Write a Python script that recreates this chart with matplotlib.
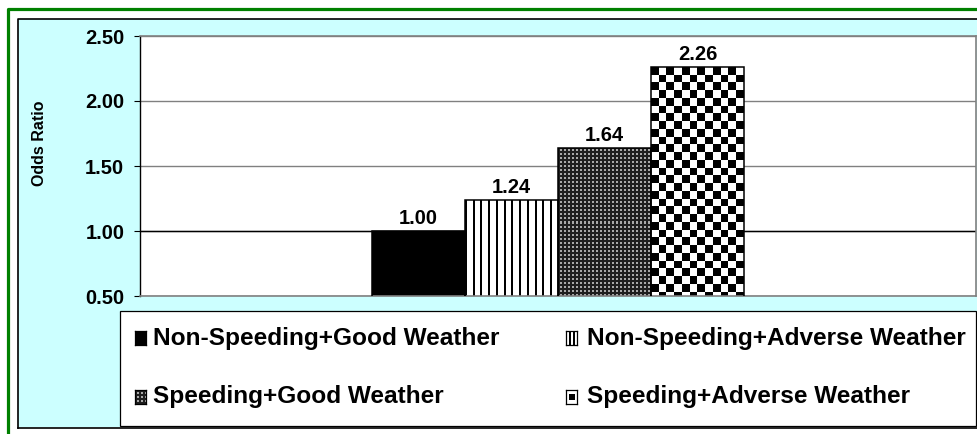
import numpy as np
import matplotlib
matplotlib.use("Agg")
import matplotlib.pyplot as plt
from matplotlib.patches import Rectangle
from matplotlib.lines import Line2D

# ---------------- data ----------------
series = ["Non-Speeding+Good Weather", "Non-Speeding+Adverse Weather",
          "Speeding+Good Weather", "Speeding+Adverse Weather"]
odds_ratio = [1.00, 1.24, 1.64, 2.26]
value_labels = ["1.00", "1.24", "1.64", "2.26"]
yticks = [0.50, 1.00, 1.50, 2.00, 2.50]
ytick_labels = ["0.50", "1.00", "1.50", "2.00", "2.50"]
y_label = "Odds Ratio"
reference_level = 1.00

# ---------------- styling ----------------
W, H = 977, 434
DPI = 100
CYAN = "#CCFFFF"
GREEN = "#008000"
GRID = "#808080"
FONT = "Liberation Sans"
kinds = ["solid", "stripes", "dots", "checker"]

plt.rcParams["font.family"] = [FONT, "DejaVu Sans"]
plt.rcParams["font.weight"] = "bold"

fig = plt.figure(figsize=(W / DPI, H / DPI), dpi=DPI)
fig.patch.set_facecolor("white")


def fx(x):
    return x / W


def fy(y):
    return 1 - y / H


# outer frames
fig.add_artist(Rectangle((fx(18), fy(427)), fx(977) - fx(18), fy(19) - fy(427),
                         transform=fig.transFigure, facecolor=CYAN, edgecolor="none", zorder=0))
fig.add_artist(Line2D([fx(17.5), fx(17.5), fx(977)], [fy(428), fy(18.5), fy(18.5)],
                      transform=fig.transFigure, color="black", lw=1.2, zorder=1))
fig.add_artist(Line2D([fx(17.5), fx(977)], [fy(428), fy(428)],
                      transform=fig.transFigure, color="black", lw=1.2, zorder=1))
fig.add_artist(Line2D([fx(8), fx(8), fx(977)], [fy(434), fy(9), fy(9)],
                      transform=fig.transFigure, color=GREEN, lw=2.3, zorder=1))

# plot area
ax = fig.add_axes([fx(140), fy(296), fx(976) - fx(140), fy(36) - fy(296)])
ax.set_facecolor("white")
ax.set_xlim(-0.5, 0.5)
ax.set_ylim(yticks[0], yticks[-1])
ax.set_yticks(yticks)
ax.set_yticklabels(ytick_labels, fontsize=14.5, fontweight="bold")
ax.set_xticks([])
ax.tick_params(axis="y", direction="out", length=4.3, width=0.8, pad=7, color="black")
ax.yaxis.grid(True, color=GRID, lw=1.0)
ax.set_axisbelow(True)
ax.axhline(reference_level, color="black", lw=1.0, zorder=1)
for s in ["top", "bottom", "right"]:
    ax.spines[s].set_color(GRID)
    ax.spines[s].set_linewidth(1.2)
ax.spines["left"].set_color("black")
ax.spines["left"].set_linewidth(1.0)

n = len(odds_ratio)
bw = 93 / 836
xpos = [(i - (n - 1) / 2) * bw for i in range(n)]

base = ax.bar(xpos, odds_ratio, width=bw, color=["black", "white", "#1a1a1a", "white"],
              edgecolor="none", zorder=2)


def pattern(kind, wpx, hpx):
    xs = np.arange(wpx) + 0.5
    ys = np.arange(hpx) + 0.5
    X, Y = np.meshgrid(xs, ys)
    if kind == "solid":
        v = np.zeros_like(X)
    elif kind == "stripes":
        v = np.where((X % 7.75) < 1.8, 0.0, 1.0)
    elif kind == "dots":
        v = np.where(((X % 4) >= 2) & ((Y % 4) >= 2), 0.66, 0.12)
    else:
        v = np.where(((np.floor(X / 7.75) + np.floor(Y / 7.75)) % 2) == 0, 0.0, 1.0)
    return np.dstack([v, v, v])


ylo = ax.get_ylim()[0]
for rect, kind in zip(base, kinds):
    if kind == "solid":
        continue
    x0 = rect.get_x()
    x1 = x0 + rect.get_width()
    y1 = rect.get_height()
    p0 = ax.transData.transform((x0, ylo))
    p1 = ax.transData.transform((x1, y1))
    wpx = max(1, int(round(abs(p1[0] - p0[0]))))
    hpx = max(1, int(round(abs(p1[1] - p0[1]))))
    im = ax.imshow(pattern(kind, wpx, hpx), extent=(x0, x1, ylo, y1), origin="upper",
                   interpolation="nearest", aspect="auto", zorder=2.5)
    im.set_clip_path(rect)

ax.bar(xpos, odds_ratio, width=bw, fill=False, edgecolor="black", lw=1.1, zorder=3)
ax.set_xlim(-0.5, 0.5)
ax.set_ylim(yticks[0], yticks[-1])

for x, v, lab in zip(xpos, odds_ratio, value_labels):
    ax.annotate(lab, (x, v), xytext=(0, 5), textcoords="offset points",
                ha="center", va="baseline", fontsize=14.5, fontweight="bold", zorder=4)

fig.text(fx(39), fy(143), y_label, rotation=90, ha="center", va="center",
         fontsize=11.5, fontweight="bold")

# legend
fig.add_artist(Rectangle((fx(120), fy(426)), fx(976) - fx(120), fy(311) - fy(426),
                         transform=fig.transFigure, facecolor="white", edgecolor="black",
                         lw=0.9, zorder=2))
leg_text_x = [153, 587, 153, 587]
leg_mark_x = [135, 566, 135, 566]
leg_y = [338, 338, 397, 397]
for i, name in enumerate(series):
    mx, my = leg_mark_x[i], leg_y[i]
    mw, mh = 11, 14
    max_ = fig.add_axes([fx(mx), fy(my + mh / 2), mw / W, mh / H], zorder=3)
    if kinds[i] == "checker":
        img = np.ones((14, 11, 3))
        img[4:10, 3:8] = 0
    elif kinds[i] == "stripes":
        img = np.ones((14, 11, 3))
        img[:, 3:5] = 0
        img[:, 6:8] = 0
    else:
        img = pattern(kinds[i], 11, 14)
    max_.imshow(img, interpolation="nearest", aspect="auto")
    max_.set_xticks([])
    max_.set_yticks([])
    for s in max_.spines.values():
        s.set_color("black")
        s.set_linewidth(0.9)
    fig.text(fx(leg_text_x[i]), fy(leg_y[i]), name, ha="left", va="center",
             fontsize=17.6, fontweight="bold", zorder=4)

fig.savefig("out.png", dpi=DPI)
